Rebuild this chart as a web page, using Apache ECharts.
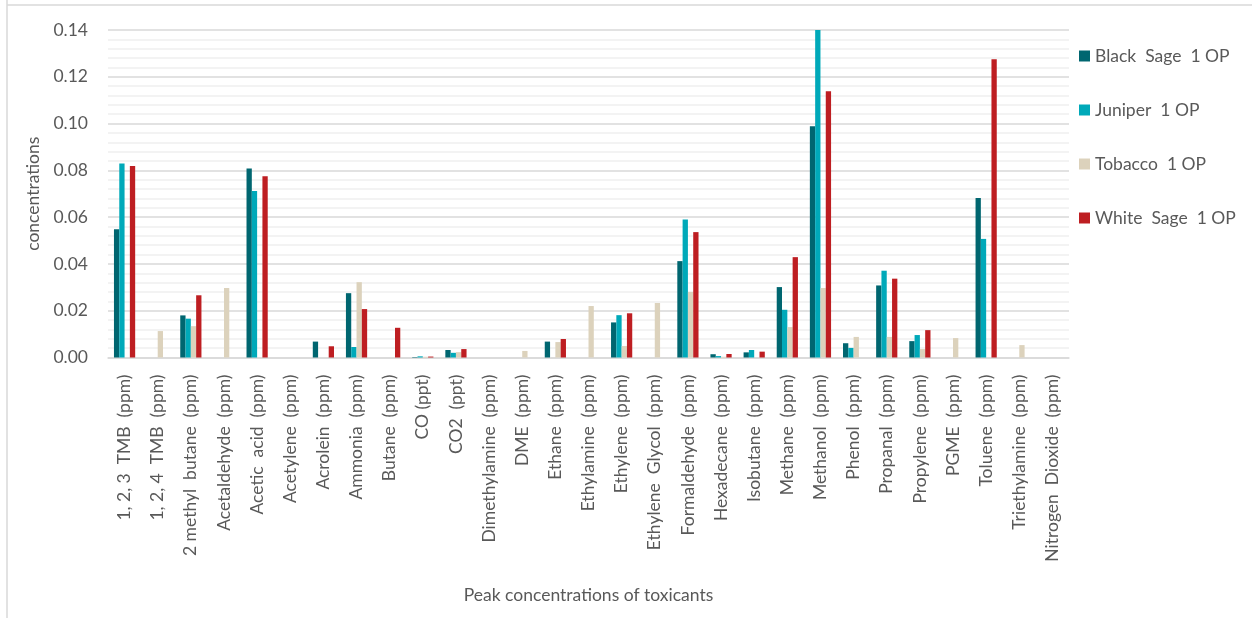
<!DOCTYPE html>
<html><head><meta charset="utf-8">
<script src="https://cdn.jsdelivr.net/npm/echarts@6/dist/echarts.min.js"></script>
<style>html,body{margin:0;padding:0;background:#fff}#c{width:1252px;height:618px}</style>
</head><body><div id="c"></div>
<script>
const categories = ["1, 2, 3  TMB  (ppm)","1, 2, 4  TMB  (ppm)","2 methyl  butane  (ppm)","Acetaldehyde  (ppm)","Acetic  acid  (ppm)","Acetylene  (ppm)","Acrolein  (ppm)","Ammonia  (ppm)","Butane  (ppm)","CO (ppt)","CO2  (ppt)","Dimethylamine  (ppm)","DME  (ppm)","Ethane  (ppm)","Ethylamine  (ppm)","Ethylene  (ppm)","Ethylene  Glycol  (ppm)","Formaldehyde  (ppm)","Hexadecane  (ppm)","Isobutane  (ppm)","Methane  (ppm)","Methanol  (ppm)","Phenol  (ppm)","Propanal  (ppm)","Propylene  (ppm)","PGME  (ppm)","Toluene  (ppm)","Triethylamine  (ppm)","Nitrogen  Dioxide  (ppm)"];
const blackSage = [0.0548,0,0.0180,0,0.0808,0,0.0068,0.0275,0,0.0002,0.0032,0,0,0.0068,0,0.0150,0,0.0412,0.0014,0.0022,0.0301,0.0989,0.0061,0.0308,0.0070,0,0.0682,0,0];
const juniper   = [0.0829,0,0.0166,0,0.0712,0,0,0.0045,0,0.0005,0.0020,0,0,0,0,0.0181,0,0.0590,0.0006,0.0032,0.0204,0.1400,0.0041,0.0371,0.0096,0,0.0507,0,0];
const tobacco   = [0,0.0113,0.0134,0.0297,0,0,0,0.0322,0,0.0003,0.0023,0,0.0028,0.0066,0.0220,0.0049,0.0233,0.0280,0.0003,0,0.0130,0.0297,0.0088,0.0088,0.0036,0.0083,0,0.0053,0];
const whiteSage = [0.0819,0,0.0266,0,0.0775,0,0.0048,0.0207,0.0127,0.0004,0.0036,0,0,0.0079,0,0.0189,0,0.0536,0.0015,0.0025,0.0429,0.1138,0,0.0337,0.0117,0,0.1275,0,0];
const seriesNames = ["Black  Sage  1 OP","Juniper  1 OP","Tobacco  1 OP","White  Sage  1 OP"];

const FONT = 'Lato';
const TXT = '#595959';
const chart = echarts.init(document.getElementById('c'));
const colors = ['#006670','#00A9B9','#DCD2BC','#BE1E22'];
const data = [blackSage, juniper, tobacco, whiteSage];
chart.setOption({
  animation:false,
  backgroundColor:'#fff',
  textStyle:{fontFamily:FONT},
  graphic:[
    {type:'line',shape:{x1:7,y1:0,x2:7,y2:618},style:{stroke:'#D9D9D9',lineWidth:1.5}},
    {type:'line',shape:{x1:7,y1:5,x2:1252,y2:5},style:{stroke:'#D9D9D9',lineWidth:1.5}}
  ],
  grid:{left:108,right:183,top:30,bottom:260.5,containLabel:false},
  legend:{
    orient:'vertical',left:1074,top:42,itemWidth:11,itemHeight:11,itemGap:36,
    icon:'rect',
    textStyle:{fontFamily:FONT,fontSize:17.5,color:TXT},
    data:seriesNames
  },
  xAxis:{
    type:'category',data:categories,
    axisLine:{lineStyle:{color:'#D9D9D9',width:1.5}},
    axisTick:{show:false},
    axisLabel:{rotate:90,interval:0,fontFamily:FONT,fontSize:17.5,color:TXT,margin:17},
    name:'Peak concentrations of toxicants',nameLocation:'middle',nameGap:229,
    nameTextStyle:{fontFamily:FONT,fontSize:17.5,color:TXT}
  },
  yAxis:{
    type:'value',min:0,max:0.14,interval:0.02,
    axisLine:{show:false},axisTick:{show:false},
    axisLabel:{fontFamily:FONT,fontSize:17.5,color:TXT,margin:20,formatter:v=>v.toFixed(2)},
    splitLine:{lineStyle:{color:'#D9D9D9',width:1.5}},
    minorTick:{show:false,splitNumber:5},
    minorSplitLine:{show:true,lineStyle:{color:'#F0F0F0',width:1.5}},
    name:'concentrations',nameLocation:'middle',nameGap:65,
    nameTextStyle:{fontFamily:FONT,fontSize:17.5,color:TXT}
  },
  series:seriesNames.map((n,i)=>({
    name:n,type:'bar',data:data[i],barGap:'0%',barCategoryGap:'36%',
    itemStyle:{color:colors[i]}
  }))
});
</script></body></html>
